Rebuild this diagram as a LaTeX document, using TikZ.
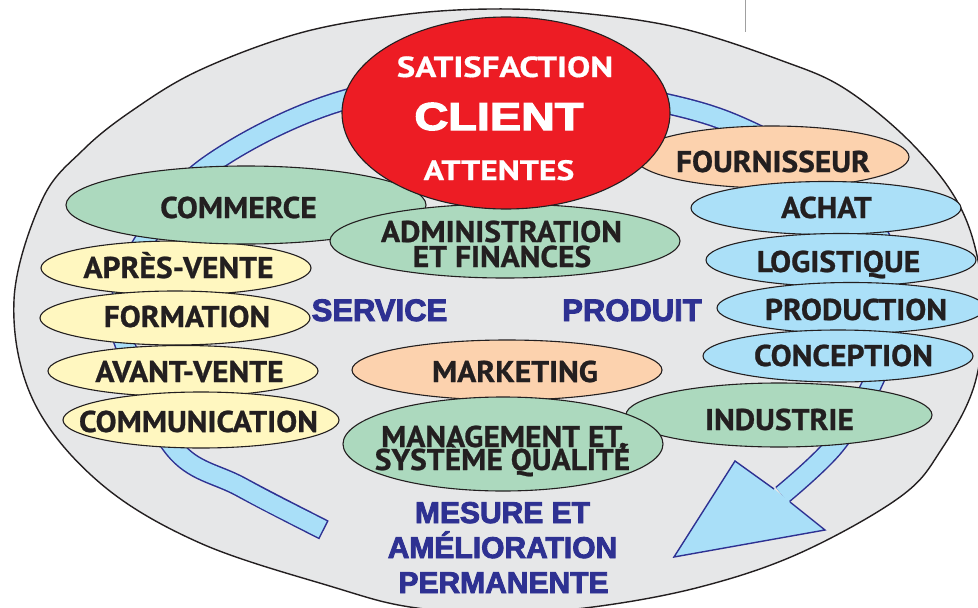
\documentclass[tikz,border=0pt]{standalone}
\usepackage{fontspec}
\usepackage{graphicx}
\usetikzlibrary{shapes.geometric}
\newfontfamily\dinfont{PT Sans}[BoldFeatures={FakeBold=0.8, FakeStretch=1.05}]
\newfontfamily\dinwide{PT Sans}[BoldFeatures={FakeBold=0.6, FakeStretch=1.2}]
\newfontfamily\heavyfont{Liberation Sans}[BoldFeatures={FakeBold=3}]
\definecolor{bggray}{HTML}{E6E7E8}
\definecolor{ink}{HTML}{231F20}
\definecolor{clientred}{HTML}{ED1C24}
\definecolor{mint}{HTML}{ACD9BE}
\definecolor{cream}{HTML}{FFF7C0}
\definecolor{peach}{HTML}{FCD2AE}
\definecolor{sky}{HTML}{ABE0F8}
\definecolor{bandblue}{HTML}{A9DFF8}
\definecolor{navy}{HTML}{2E3192}
\definecolor{rulegray}{HTML}{A0A0A0}
\begin{document}
\begin{tikzpicture}[x=1pt,y=-1pt,
  ell/.style={ellipse, draw=ink, line width=1.1pt, inner sep=0pt, outer sep=0pt},
  lbl/.style={anchor=base, inner sep=0pt, text=ink, font=\dinfont\bfseries\fontsize{30}{30}\selectfont},
  wlbl/.style={anchor=base, inner sep=0pt, text=white, font=\dinwide\bfseries\fontsize{29}{29}\selectfont},
  blbl/.style={anchor=base, inner sep=0pt, text=navy, font=\heavyfont\bfseries\fontsize{30}{30}\selectfont},
  bandpts/.style={smooth, tension=0.6},
]
\useasboundingbox (0,0) rectangle (978,608);
\clip (0,0) rectangle (978,608);
% outer ellipse
\path[draw=ink, line width=1.4pt, fill=bggray] plot[smooth cycle, tension=0.6] coordinates {
 (490,9) (580,13) (680,28) (780,60) (847,90) (918,150) (965,217) (983,300)
 (975,383) (941,450) (900,497) (800,553) (700,587) (593,607) (500,613)
 (410,607) (333,587) (200,543) (100,483) (33,400) (14,300) (42,200)
 (83,150) (133,110) (200,70) (300,33) (400,15)};
\draw[rulegray, line width=1pt] (745,0) -- (745,32);
% circular band
\coordinate (tail) at (324,530);
\coordinate (head) at (782,495);
\draw[navy, line width=21pt] plot[bandpts] coordinates {
 (tail) (241,487) (174,448) (124,342) (121,300) (145,240) (208,166) (341,101)
 (505,77) (668,104) (756,134) (840,185) (888,255) (893,320) (873,382) (835,445) (head)};
\draw[bandblue, line width=18pt, shorten <=1.5pt] plot[bandpts] coordinates {
 (tail) (241,487) (174,448) (124,342) (121,300) (145,240) (208,166) (341,101)
 (505,77) (668,104) (756,134) (840,185) (888,255) (893,320) (873,382) (835,445) (head)};
\coordinate (n1) at (774,489);
\coordinate (b1) at (735,461);
\coordinate (tip) at (674,557);
\coordinate (b2) at (825,530);
\coordinate (n2) at (790,502);
\fill[bandblue] (n1) -- (b1) -- (tip) -- (b2) -- (n2) -- cycle;
\draw[navy, line width=1.4pt, line join=miter] (n1) -- (b1) -- (tip) -- (b2) -- (n2);
% ellipses
\node[ell, fill=cream, minimum width=270pt, minimum height=54pt] (apres) at (176,268) {};
\node[ell, fill=cream, minimum width=270pt, minimum height=54pt] (formation) at (175,318) {};
\node[ell, fill=cream, minimum width=270pt, minimum height=51pt] (avant) at (183,371) {};
\node[ell, fill=cream, minimum width=276pt, minimum height=56pt] (comm) at (201,420) {};
\node[ell, fill=mint, minimum width=360pt, minimum height=78pt] (commerce) at (246,205) {};
\node[ell, fill=mint, minimum width=350pt, minimum height=74pt] (admin) at (505,241) {};
\node[ell, fill=peach, minimum width=274pt, minimum height=62pt] (fourn) at (772,157) {};
\node[ell, fill=sky, minimum width=270pt, minimum height=53pt] (achat) at (826,208) {};
\node[ell, fill=sky, minimum width=270pt, minimum height=53pt] (logist) at (841,260) {};
\node[ell, fill=sky, minimum width=268pt, minimum height=51pt] (prod) at (851,308) {};
\node[ell, fill=sky, minimum width=270pt, minimum height=52pt] (concep) at (838,356) {};
\node[ell, fill=peach, minimum width=310pt, minimum height=60pt] (mkt) at (507,370) {};
\node[ell, fill=mint, minimum width=306pt, minimum height=64pt] (indus) at (779,415) {};
\node[ell, fill=mint, minimum width=320pt, minimum height=94pt] (mgmt) at (503,444) {};
\node[ell, fill=clientred, minimum width=328pt, minimum height=192pt] (client) at (506,113) {};
% texts
\node[wlbl] (t-satis) at (505,77) {SATISFACTION};
\node[wlbl, font=\heavyfont\bfseries\fontsize{39}{39}\selectfont] (t-client) at (499,130) {\scalebox{1.2}[1]{CLIENT}};
\node[wlbl, font=\dinwide\bfseries\fontsize{28}{28}\selectfont] (t-attentes) at (499,180) {ATTENTES};
\node[lbl] (t-commerce) at (238.5,218) {COMMERCE};
\node[lbl] (t-admin1) at (501.5,242) {ADMINISTRATION};
\node[lbl] (t-admin2) at (502,267) {ET FINANCES};
\node[lbl] (t-apres) at (178.5,278) {APRÈS-VENTE};
\node[lbl] (t-formation) at (187,327) {FORMATION};
\node[lbl] (t-avant) at (189.5,382) {AVANT-VENTE};
\node[lbl] (t-comm) at (198.5,432) {COMMUNICATION};
\node[lbl] (t-fourn) at (773,172) {FOURNISSEUR};
\node[lbl] (t-achat) at (826.5,218) {ACHAT};
\node[lbl] (t-logist) at (838.5,272) {LOGISTIQUE};
\node[lbl] (t-prod) at (856,320) {PRODUCTION};
\node[lbl] (t-concep) at (843.5,366) {CONCEPTION};
\node[lbl] (t-indus) at (779.5,430) {INDUSTRIE};
\node[lbl] (t-mkt) at (515,382) {MARKETING};
\node[lbl] (t-mgmt1) at (504,447) {MANAGEMENT ET,};
\node[lbl] (t-mgmt2) at (502.5,470) {SYSTÈME QUALITÉ};
\node[blbl, font=\heavyfont\bfseries\fontsize{31}{31}\selectfont] (t-service) at (379.5,321) {SERVICE};
\node[blbl, font=\heavyfont\bfseries\fontsize{31}{31}\selectfont] (t-produit) at (632,321) {PRODUIT};
\node[blbl] (t-mesure) at (502.5,523) {MESURE ET};
\node[blbl] (t-amelio) at (502.5,558) {AMÉLIORATION};
\node[blbl] (t-perm) at (503.5,593) {PERMANENTE};
\end{tikzpicture}
\end{document}
